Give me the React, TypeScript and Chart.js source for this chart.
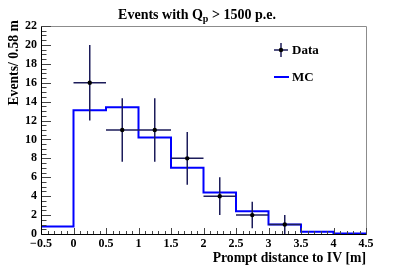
import React, { useEffect, useRef } from "react";
import { Chart, registerables } from "chart.js";
Chart.register(...registerables);

const binEdges = [-0.5, 0, 0.5, 1, 1.5, 2, 2.5, 3, 3.5, 4, 4.5];
const mcValues = [0.8, 13.1, 13.4, 10.2, 7.0, 4.4, 2.4, 1.0, 0.25, 0.05];
const dataX = [0.25, 0.75, 1.25, 1.75, 2.25, 2.75, 3.25];
const dataY = [16, 11, 11, 8, 4, 2, 1];
const dataErrY = [4, 3.35, 3.35, 2.8, 2, 1.4, 1];
const dataErrX = [0.25, 0.25, 0.25, 0.25, 0.25, 0.25, 0.25];
const xTicks = [-0.5, 0, 0.5, 1, 1.5, 2, 2.5, 3, 3.5, 4, 4.5];
const yTicks = [0, 2, 4, 6, 8, 10, 12, 14, 16, 18, 20, 22];
const titleParts = ["Events with Q", "p", " > 1500 p.e."];
const xTitle = "Prompt distance to IV [m]";
const yTitle = "Events/ 0.58 m";

const SERIF = '"Liberation Serif", "Times New Roman", serif';
const ERR_COLOR = "#1c1c5a";

export default function App() {
  const ref = useRef<HTMLCanvasElement | null>(null);
  useEffect(() => {
    document.body.style.margin = "0";
    const canvas = ref.current!;
    const mcPoints: { x: number; y: number }[] = [];
    mcValues.forEach((v, i) => {
      mcPoints.push({ x: binEdges[i], y: v });
      mcPoints.push({ x: binEdges[i + 1], y: v });
    });
    const dataPoints = dataX.map((x, i) => ({ x, y: dataY[i] }));

    const plugin = {
      id: "rootStyle",
      afterDatasetDraw(chart: any, args: any) {
        if (args.index !== 1) return;
        const ctx = chart.ctx;
        const xs = chart.scales.x;
        const ys = chart.scales.y;
        ctx.save();
        ctx.strokeStyle = ERR_COLOR;
        ctx.lineWidth = 1.5;
        dataX.forEach((x, i) => {
          const px = xs.getPixelForValue(x);
          const py = ys.getPixelForValue(dataY[i]);
          ctx.beginPath();
          ctx.moveTo(px, ys.getPixelForValue(dataY[i] + dataErrY[i]));
          ctx.lineTo(px, ys.getPixelForValue(Math.max(0, dataY[i] - dataErrY[i])));
          ctx.moveTo(xs.getPixelForValue(x - dataErrX[i]), py);
          ctx.lineTo(xs.getPixelForValue(x + dataErrX[i]), py);
          ctx.stroke();
        });
        ctx.restore();
      },
      afterDraw(chart: any) {
        const ctx = chart.ctx;
        const a = chart.chartArea;
        const xs = chart.scales.x;
        const ys = chart.scales.y;
        const L = Math.round(a.left) + 0.5;
        const R = Math.round(a.right) + 0.5;
        const T = Math.round(a.top) + 0.5;
        const B = Math.round(a.bottom) + 0.5;
        ctx.save();
        // frame top/right
        ctx.strokeStyle = "#8c8c8c";
        ctx.lineWidth = 1;
        ctx.beginPath();
        ctx.moveTo(L, T);
        ctx.lineTo(R, T);
        ctx.lineTo(R, B);
        ctx.stroke();
        // ticks
        ctx.strokeStyle = "#444";
        ctx.beginPath();
        const yMaj = 9.5, yMin = 5;
        for (let v = 0; v <= 22.0001; v += 0.5) {
          const py = Math.round(ys.getPixelForValue(v)) + 0.5;
          const major = Math.abs(v / 2 - Math.round(v / 2)) < 1e-6;
          ctx.moveTo(L, py);
          ctx.lineTo(L + (major ? yMaj : yMin), py);
        }
        const xMaj = 6.5, xMin = 3.5;
        for (let k = -5; k <= 45; k++) {
          const v = k / 10;
          const px = Math.round(xs.getPixelForValue(v)) + 0.5;
          const major = k % 5 === 0;
          ctx.moveTo(px, B);
          ctx.lineTo(px, B - (major ? xMaj : xMin));
        }
        ctx.stroke();
        // axis lines
        ctx.strokeStyle = "#000";
        ctx.beginPath();
        ctx.moveTo(L, T);
        ctx.lineTo(L, B);
        ctx.lineTo(R, B);
        ctx.stroke();

        // title
        ctx.fillStyle = "#000";
        ctx.textBaseline = "alphabetic";
        const fMain = "bold 14px " + SERIF;
        const fSub = "bold 10px " + SERIF;
        ctx.font = fMain;
        const w0 = ctx.measureText(titleParts[0]).width;
        const w2 = ctx.measureText(titleParts[2]).width;
        ctx.font = fSub;
        const w1 = ctx.measureText(titleParts[1]).width;
        const total = w0 + w1 + w2;
        let tx = 197 - total / 2;
        const tb = 19;
        ctx.font = fMain;
        ctx.textAlign = "left";
        ctx.fillText(titleParts[0], tx, tb);
        tx += w0;
        ctx.font = fSub;
        ctx.fillText(titleParts[1], tx, tb + 3);
        tx += w1;
        ctx.font = fMain;
        ctx.fillText(titleParts[2], tx, tb);

        // x title
        ctx.font = "bold 13.7px " + SERIF;
        ctx.textAlign = "right";
        ctx.fillText(xTitle, a.right, 262);

        // y title
        ctx.save();
        ctx.translate(14, 20);
        ctx.rotate(-Math.PI / 2);
        ctx.textAlign = "right";
        ctx.textBaseline = "middle";
        ctx.fillText(yTitle, 0, 0);
        ctx.restore();

        // legend
        const lx = 281, ly1 = 50, ly2 = 77;
        ctx.strokeStyle = ERR_COLOR;
        ctx.lineWidth = 1.5;
        ctx.beginPath();
        ctx.moveTo(lx - 7, ly1);
        ctx.lineTo(lx + 7, ly1);
        ctx.moveTo(lx, ly1 - 7);
        ctx.lineTo(lx, ly1 + 7);
        ctx.stroke();
        ctx.fillStyle = "#000";
        ctx.beginPath();
        ctx.arc(lx, ly1, 2.2, 0, Math.PI * 2);
        ctx.fill();
        ctx.strokeStyle = "#0000ff";
        ctx.lineWidth = 2;
        ctx.beginPath();
        ctx.moveTo(lx - 7, ly2);
        ctx.lineTo(lx + 8, ly2);
        ctx.stroke();
        ctx.font = "bold 13px " + SERIF;
        ctx.textAlign = "left";
        ctx.textBaseline = "middle";
        ctx.fillStyle = "#000";
        ctx.fillText(chart.data.datasets[0].label, 292, ly1 + 1);
        ctx.fillText(chart.data.datasets[1].label, 292, ly2 + 1);
        ctx.restore();
      },
    };

    const chart = new Chart(canvas, {
      type: "scatter",
      data: {
        datasets: [
          {
            label: "Data",
            data: dataPoints,
            pointRadius: 2.2,
            pointBackgroundColor: "#000",
            pointBorderColor: "#000",
            pointBorderWidth: 0,
            showLine: false,
          } as any,
          {
            label: "MC",
            type: "line",
            data: mcPoints,
            borderColor: "#0000ff",
            borderWidth: 2,
            pointRadius: 0,
            fill: false,
            tension: 0,
            showLine: true,
            clip: false,
          } as any,
        ],
      },
      options: {
        animation: false,
        responsive: false,
        maintainAspectRatio: false,
        layout: { padding: { top: 26, right: 41, left: 0, bottom: 0 } },
        plugins: { legend: { display: false }, tooltip: { enabled: false }, title: { display: false } },
        scales: {
          x: {
            type: "linear",
            min: -0.5,
            max: 4.5,
            afterFit: (s: any) => { s.height = 36; },
            afterBuildTicks: (s: any) => { s.ticks = xTicks.map((v) => ({ value: v })); },
            grid: { display: false, drawTicks: false },
            border: { display: false },
            ticks: {
              autoSkip: false,
              maxRotation: 0,
              padding: 3,
              color: "#000",
              font: { family: SERIF, size: 12, weight: "bold" },
              callback: (v: any) => (Number(v) < 0 ? "\u2212" + Math.abs(Number(v)) : String(v)),
            },
          },
          y: {
            type: "linear",
            min: 0,
            max: 22,
            afterFit: (s: any) => { s.width = 41; },
            afterBuildTicks: (s: any) => { s.ticks = yTicks.map((v) => ({ value: v })); },
            grid: { display: false, drawTicks: false },
            border: { display: false },
            ticks: {
              autoSkip: false,
              padding: 4,
              color: "#000",
              font: { family: SERIF, size: 12, weight: "bold" },
            },
          },
        },
      },
      plugins: [plugin],
    });
    return () => chart.destroy();
  }, []);
  return <canvas ref={ref} width={407} height={270} style={{ display: "block", width: 407, height: 270 }} />;
}
